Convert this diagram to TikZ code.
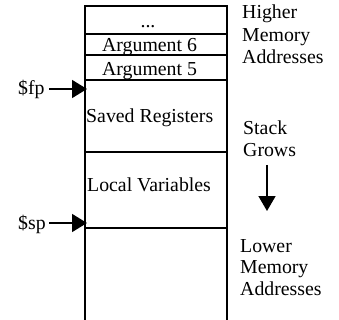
\documentclass[tikz,border=0pt]{standalone}
\usepackage{fontspec}
\setmainfont{Liberation Serif}
\usetikzlibrary{arrows.meta}
\begin{document}
\begin{tikzpicture}[x=1pt,y=-1pt,
  txt/.style={inner sep=0pt,anchor=base west,font=\fontsize{19.8}{22}\selectfont},
  boxline/.style={line width=1.1pt},
  ptr/.style={line width=1.6pt,-{Triangle[length=15pt,width=18pt]}},
  growarrow/.style={line width=1.6pt,-{Triangle[length=15pt,width=17pt]}}]
\useasboundingbox (0,0) rectangle (339,320);
% frame
\draw[boxline] (85,320) -- (85,6) -- (227,6) -- (227,320);
\foreach \y in {34,55,80,152,228} \draw[boxline] (85,\y) -- (227,\y);
% cell texts
\node[txt,anchor=base] (dots) at (148,28) {...};
\node[txt] (arg6) at (102,52) {Argument 6};
\node[txt] (arg5) at (102,76) {Argument 5};
\node[txt] (saved) at (86,123) {Saved Registers};
\node[txt] (local) at (87,191) {Local Variables};
% pointers
\node[txt] (fp) at (18,95) {\$fp};
\node[txt] (sp) at (18,229) {\$sp};
\coordinate (fpt) at (87,89);
\coordinate (spt) at (87,223);
\coordinate (fps) at (49,89);
\coordinate (sps) at (49,223);
\draw[ptr] (fps) -- (fpt);
\draw[ptr] (sps) -- (spt);
% right labels
\node[txt] (h1) at (242,19) {Higher};
\node[txt] (h2) at (242,42) {Memory};
\node[txt] (h3) at (242,64) {Addresses};
\node[txt] (s1) at (243,135) {Stack};
\node[txt] (s2) at (243,157) {Grows};
\coordinate (ga) at (267,165);
\coordinate (gb) at (267,211);
\draw[growarrow] (ga) -- (gb);
\node[txt] (l1) at (240,252) {Lower};
\node[txt] (l2) at (240,273) {Memory};
\node[txt] (l3) at (240,295) {Addresses};
\end{tikzpicture}
\end{document}
